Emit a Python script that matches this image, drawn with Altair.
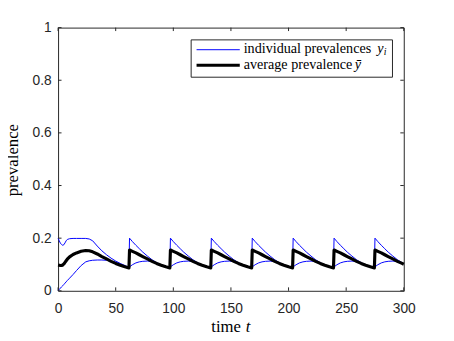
import altair as alt
import pandas as pd

# time grid (shared by all series)
T = [0, 1, 2, 3, 4, 5, 6, 7, 8, 10, 13, 16, 20, 24, 27, 30, 34, 38, 42, 46, 50, 54, 58,
     61.5, 62, 64.5, 67.5, 70.5, 73.5, 77.5, 81.5, 85.5, 89.5, 93.5,
     97, 97.5, 100, 103, 106, 109, 113, 117, 121, 125, 129,
     132.5, 133, 135.5, 138.5, 141.5, 144.5, 148.5, 152.5, 156.5, 160.5, 164.5,
     168, 168.5, 171, 174, 177, 180, 184, 188, 192, 196, 200,
     203.5, 204, 206.5, 209.5, 212.5, 215.5, 219.5, 223.5, 227.5, 231.5, 235.5,
     239, 239.5, 242, 245, 248, 251, 255, 259, 263, 267, 271,
     274.5, 275, 277.5, 280.5, 283.5, 286.5, 290.5, 294.5, 298.5, 300]

# individual 1 (upper blue curve)
Y_UPPER = [0.200, 0.190, 0.181, 0.176, 0.173, 0.175, 0.182, 0.190, 0.195, 0.198, 0.199, 0.199, 0.199, 0.199, 0.197, 0.190, 0.170, 0.152, 0.137, 0.124, 0.113, 0.104, 0.096,
           0.089, 0.200, 0.187, 0.173, 0.160, 0.147, 0.132, 0.118, 0.107, 0.098, 0.092,
           0.089, 0.200, 0.187, 0.173, 0.160, 0.147, 0.132, 0.118, 0.107, 0.098, 0.092,
           0.089, 0.200, 0.187, 0.173, 0.160, 0.147, 0.132, 0.118, 0.107, 0.098, 0.092,
           0.089, 0.200, 0.187, 0.173, 0.160, 0.147, 0.132, 0.118, 0.107, 0.098, 0.092,
           0.089, 0.200, 0.187, 0.173, 0.160, 0.147, 0.132, 0.118, 0.107, 0.098, 0.092,
           0.089, 0.200, 0.187, 0.173, 0.160, 0.147, 0.132, 0.118, 0.107, 0.098, 0.092,
           0.089, 0.200, 0.187, 0.173, 0.160, 0.147, 0.132, 0.118, 0.107, 0.103]

# individual 2 (lower blue curve)
Y_LOWER = [0.000, 0.005, 0.010, 0.015, 0.019, 0.024, 0.029, 0.034, 0.039, 0.048, 0.062, 0.077, 0.096, 0.110, 0.114, 0.116, 0.117, 0.117, 0.116, 0.113, 0.108, 0.101, 0.094,
           0.088, 0.091, 0.099, 0.106, 0.110, 0.112, 0.113, 0.111, 0.106, 0.098, 0.092,
           0.088, 0.091, 0.099, 0.106, 0.110, 0.112, 0.113, 0.111, 0.106, 0.098, 0.092,
           0.088, 0.091, 0.099, 0.106, 0.110, 0.112, 0.113, 0.111, 0.106, 0.098, 0.092,
           0.088, 0.091, 0.099, 0.106, 0.110, 0.112, 0.113, 0.111, 0.106, 0.098, 0.092,
           0.088, 0.091, 0.099, 0.106, 0.110, 0.112, 0.113, 0.111, 0.106, 0.098, 0.092,
           0.088, 0.091, 0.099, 0.106, 0.110, 0.112, 0.113, 0.111, 0.106, 0.098, 0.092,
           0.088, 0.091, 0.099, 0.106, 0.110, 0.112, 0.113, 0.111, 0.106, 0.103]

# average prevalence (thick black curve)
Y_AVG = [0.098, 0.097, 0.096, 0.096, 0.098, 0.102, 0.108, 0.114, 0.120, 0.129, 0.138, 0.144, 0.150, 0.153, 0.152, 0.148, 0.140, 0.130, 0.121, 0.112, 0.104, 0.097, 0.091,
         0.087, 0.155, 0.150, 0.144, 0.137, 0.130, 0.121, 0.112, 0.104, 0.097, 0.091,
         0.087, 0.155, 0.150, 0.144, 0.137, 0.130, 0.121, 0.112, 0.104, 0.097, 0.091,
         0.087, 0.155, 0.150, 0.144, 0.137, 0.130, 0.121, 0.112, 0.104, 0.097, 0.091,
         0.087, 0.155, 0.150, 0.144, 0.137, 0.130, 0.121, 0.112, 0.104, 0.097, 0.091,
         0.087, 0.155, 0.150, 0.144, 0.137, 0.130, 0.121, 0.112, 0.104, 0.097, 0.091,
         0.087, 0.155, 0.150, 0.144, 0.137, 0.130, 0.121, 0.112, 0.104, 0.097, 0.091,
         0.087, 0.155, 0.150, 0.144, 0.137, 0.130, 0.121, 0.112, 0.104, 0.101]

X_TICKS = [0, 50, 100, 150, 200, 250, 300]
Y_TICKS = [0, 0.2, 0.4, 0.6, 0.8, 1]
LEGEND_1 = "individual prevalences"
LEGEND_2 = "average prevalence"
X_TITLE = "time"
Y_TITLE = "prevalence"

W, H = 352, 268
BLUE = "#0000ff"
AX = "#262626"
SERIF = "Liberation Serif"

rows = []
for name, ys in [("y1", Y_UPPER), ("y2", Y_LOWER)]:
    for i, (t, v) in enumerate(zip(T, ys)):
        rows.append({"t": t, "v": v, "id": name, "i": i})
ind = pd.DataFrame(rows)
avg = pd.DataFrame({"t": T, "v": Y_AVG, "i": list(range(len(T)))})
xt = pd.DataFrame({"t": X_TICKS})
yt = pd.DataFrame({"v": Y_TICKS})
one = pd.DataFrame({"a": [0]})

xs = alt.Scale(domain=[0, 300], nice=False, zero=False)
ysc = alt.Scale(domain=[0, 1], nice=False)
XAX = alt.Axis(values=X_TICKS, title=None, labelPadding=11, format="d",
               labelFlush=False, labelOverlap=False, ticks=False, tickSize=0)
YAX = alt.Axis(values=Y_TICKS, title=None, labelPadding=7, format="~g",
               labelFlush=False, labelOverlap=False, ticks=False, tickSize=0)
XE = alt.X("t:Q", scale=xs, axis=XAX, title=None)
YE = alt.Y("v:Q", scale=ysc, axis=YAX, title=None)

blue = alt.Chart(ind).mark_line(color=BLUE, strokeWidth=1).encode(
    x=XE, y=YE, detail="id:N", order="i:Q",
)
black = alt.Chart(avg).mark_line(color="black", strokeWidth=3.2, strokeJoin="round").encode(
    x=XE, y=YE, order="i:Q",
)

TL = 3.5
xt_bot = alt.Chart(xt).mark_rule(color=AX, strokeWidth=1).encode(
    x=XE, y=alt.value(H), y2=alt.value(H - TL))
xt_top = alt.Chart(xt).mark_rule(color=AX, strokeWidth=1).encode(
    x=XE, y=alt.value(0), y2=alt.value(TL))
yt_left = alt.Chart(yt).mark_rule(color=AX, strokeWidth=1).encode(
    y=YE, x=alt.value(0), x2=alt.value(TL))
yt_right = alt.Chart(yt).mark_rule(color=AX, strokeWidth=1).encode(
    y=YE, x=alt.value(W), x2=alt.value(W - TL))

# legend box
leg_box = alt.Chart(one).mark_rect(fill="white", stroke=AX, strokeWidth=1).encode(
    x=alt.value(135.5), x2=alt.value(340.5), y=alt.value(12.5), y2=alt.value(50.5))
leg_l1 = alt.Chart(one).mark_rule(strokeWidth=1).encode(
    x=alt.value(141), x2=alt.value(185), y=alt.value(22.5), color=alt.value(BLUE))
leg_l2 = alt.Chart(one).mark_rule(strokeWidth=3.2).encode(
    x=alt.value(141), x2=alt.value(185), y=alt.value(38.3), color=alt.value("black"))
leg_t1 = alt.Chart(one).mark_text(text=LEGEND_1, align="left", baseline="alphabetic",
                                  font=SERIF, fontSize=14.4, color="black").encode(
    x=alt.value(189), y=alt.value(25.9))
leg_t1y = alt.Chart(one).mark_text(text="y", align="left", baseline="alphabetic",
                                   font=SERIF, fontSize=14.4, fontStyle="italic", color="black").encode(
    x=alt.value(325), y=alt.value(25.9))
leg_t1i = alt.Chart(one).mark_text(text="i", align="left", baseline="alphabetic",
                                   font=SERIF, fontSize=10, fontStyle="italic", color="black").encode(
    x=alt.value(331.5), y=alt.value(28))
leg_t2 = alt.Chart(one).mark_text(text=LEGEND_2, align="left", baseline="alphabetic",
                                  font=SERIF, fontSize=14.4, color="black").encode(
    x=alt.value(189), y=alt.value(42.4))
leg_t2y = alt.Chart(one).mark_text(text="ȳ", align="left", baseline="alphabetic",
                                   font=SERIF, fontSize=14.4, fontStyle="italic", color="black").encode(
    x=alt.value(302), y=alt.value(42.4))

# axis titles
xtitle_a = alt.Chart(one).mark_text(text=X_TITLE, align="left", baseline="alphabetic",
                                    font=SERIF, fontSize=17, color="black").encode(
    x=alt.value(156), y=alt.value(310))
xtitle_b = alt.Chart(one).mark_text(text="t", align="left", baseline="alphabetic",
                                    font=SERIF, fontSize=17, fontStyle="italic", color="black").encode(
    x=alt.value(191), y=alt.value(310))
ytitle = alt.Chart(one).mark_text(text=Y_TITLE, align="center", baseline="alphabetic", angle=270,
                                  font=SERIF, fontSize=17, color="black").encode(
    x=alt.value(-40.5), y=alt.value(135))

chart = alt.layer(
    blue, black, xt_bot, xt_top, yt_left, yt_right,
    leg_box, leg_l1, leg_l2, leg_t1, leg_t1y, leg_t1i, leg_t2, leg_t2y,
    xtitle_a, xtitle_b, ytitle,
).properties(
    width=W, height=H,
    autosize=alt.AutoSizeParams(type="none"),
    padding={"left": 51, "top": 17, "right": 43, "bottom": 40},
    background="white",
).configure_view(
    stroke=AX, strokeWidth=1,
).configure_axis(
    grid=False, domain=False, ticks=False, tickSize=0,
    labelFont="Liberation Sans", labelFontSize=14, labelColor=AX,
)

chart.save("out.html", embed_options={"renderer": "svg", "actions": False})
